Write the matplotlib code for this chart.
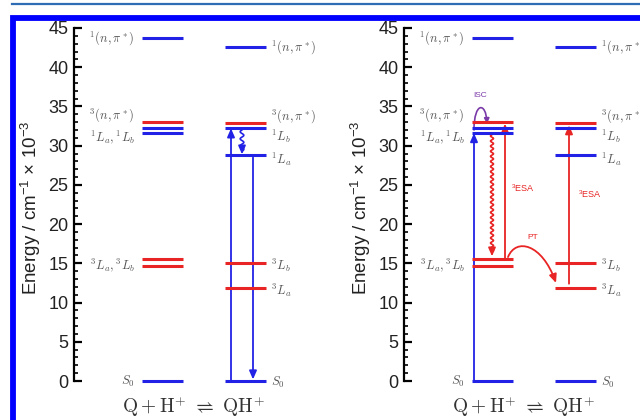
import numpy as np
import matplotlib
matplotlib.use("Agg")
import matplotlib.pyplot as plt
from matplotlib.patches import FancyArrowPatch, Rectangle
from matplotlib.path import Path
from matplotlib.lines import Line2D
from matplotlib.ticker import MultipleLocator

plt.rcParams['font.family'] = ['Liberation Sans', 'DejaVu Sans']
plt.rcParams['mathtext.fontset'] = 'custom'
plt.rcParams['mathtext.rm'] = 'Liberation Sans'
plt.rcParams['mathtext.it'] = 'Liberation Sans:italic'

# ---------------- data (energies in 10^3 cm^-1) ----------------
q_labels = [r'$^1(n,\pi^*)$', r'$^3(n,\pi^*)$', None, r'$^1L_a,{}^1L_b$',
            r'$^3L_a,{}^3L_b$', None, r'$S_0$']
q_energy = [43.7, 33.0, 32.3, 31.6, 15.5, 14.7, 0.0]
q_kind = ['S', 'T', 'S', 'S', 'T', 'T', 'S']
q_label_y = [43.7, 33.9, None, 31.0, 14.8, None, -0.1]

qh_labels = [r'$^1(n,\pi^*)$', r'$^3(n,\pi^*)$', r'$^1L_b$', r'$^1L_a$',
             r'$^3L_b$', r'$^3L_a$', r'$S_0$']
qh_energy = [42.6, 32.9, 32.2, 28.8, 15.0, 11.9, 0.0]
qh_kind = ['S', 'T', 'S', 'S', 'T', 'T', 'S']
qh_label_y = [42.6, 33.8, 31.2, 28.3, 14.7, 11.6, -0.2]

reaction = r'$\mathrm{Q}+\mathrm{H}^{+}\ \rightleftharpoons\ \mathrm{QH}^{+}$'
ylabel = r'Energy / cm$^{-1}$ $\times$ 10$^{-3}$'

BLUE = '#2222e6'
RED = '#e82424'
PURPLE = '#7a3aa8'
GRAY = '#555555'
COL = {'S': BLUE, 'T': RED}

# layout (axis-relative x positions in px)
QX = (68, 109)
QHX = (151, 192)

fig = plt.figure(figsize=(6.4, 4.2), dpi=100)
W, H = 640, 420
ax1 = fig.add_axes([74 / W, 39 / H, 240 / W, 353 / H])
ax2 = fig.add_axes([404 / W, 39 / H, 236 / W, 353 / H])


def style(ax, width):
    ax.set_xlim(0, width)
    ax.set_ylim(0, 45)
    for s in ['top', 'right', 'bottom']:
        ax.spines[s].set_visible(False)
    ax.spines['left'].set_linewidth(1.6)
    ax.set_xticks([])
    ax.yaxis.set_major_locator(MultipleLocator(5))
    ax.yaxis.set_minor_locator(MultipleLocator(1))
    ax.tick_params(axis='y', which='major', direction='in', length=5.5,
                   width=1.6, labelsize=13, pad=4, labelcolor='#222222')
    ax.tick_params(axis='y', which='minor', direction='in', length=3,
                   width=1.2)
    ax.patch.set_alpha(0)
    ax.text(-43 / width, 0.49, ylabel, rotation=90, ha='center',
            va='center', transform=ax.transAxes, fontsize=13.5,
            color='#222222')


def levels(ax):
    for e, k in zip(q_energy, q_kind):
        ax.plot(QX, [e, e], color=COL[k], lw=2.2, clip_on=False,
                solid_capstyle='butt')
    for e, k in zip(qh_energy, qh_kind):
        ax.plot(QHX, [e, e], color=COL[k], lw=2.2, clip_on=False,
                solid_capstyle='butt')
    for lab, y in zip(q_labels, q_label_y):
        if lab:
            ax.text(QX[0] - 7, y, lab, ha='right', va='center', fontsize=9,
                    color=GRAY, math_fontfamily='cm')
    for lab, y in zip(qh_labels, qh_label_y):
        ax.text(QHX[1] + 5, y, lab, ha='left', va='center', fontsize=9,
                color=GRAY, math_fontfamily='cm', clip_on=False)
    ax.text((QX[0] + QHX[1]) / 2 - 11, -3.3, reaction, ha='center',
            va='center', fontsize=14, math_fontfamily='cm',
            color='#333333', clip_on=False)


def arrow(ax, x, y0, y1, color=BLUE, lw=1.3):
    a = FancyArrowPatch((x, y0), (x, y1),
                        arrowstyle='-|>,head_length=5,head_width=2.2',
                        mutation_scale=1, color=color, lw=lw,
                        shrinkA=0, shrinkB=0, clip_on=False)
    ax.add_patch(a)


def wavy(ax, x, y0, y1, color, period, amp, lw=1.2):
    n = int(abs(y0 - y1) / period)
    yy = np.linspace(y0, y0 - n * period, 40 * n + 1)
    xx = x + amp * np.sin(2 * np.pi * (yy - y0) / period)
    verts = list(zip(xx, yy)) + [(x, y1)]
    p = Path(verts)
    a = FancyArrowPatch(path=p, arrowstyle='-|>,head_length=5,head_width=2.2',
                        mutation_scale=1, color=color, lw=lw,
                        shrinkA=0, shrinkB=0)
    ax.add_patch(a)


def curved(ax, pts, color, lw=1.3, hl=5, hw=2.2):
    codes = [Path.MOVETO, Path.CURVE4, Path.CURVE4, Path.CURVE4]
    p = Path(pts, codes)
    a = FancyArrowPatch(path=p,
                        arrowstyle=f'-|>,head_length={hl},head_width={hw}',
                        mutation_scale=1, color=color, lw=lw,
                        shrinkA=0, shrinkB=0)
    ax.add_patch(a)


style(ax1, 240)
style(ax2, 236)
levels(ax1)
levels(ax2)

# ---- left panel arrows (QH+) ----
arrow(ax1, 157, qh_energy[6], qh_energy[2])
wavy(ax1, 168, qh_energy[2] - 0.2, qh_energy[3] + 0.1, BLUE, 0.9, 1.8)
arrow(ax1, 179, qh_energy[3] - 0.3, qh_energy[6] + 0.2)

# ---- right panel arrows ----
arrow(ax2, 70, q_energy[6], q_energy[3])
curved(ax2, [(70, 32.0), (70, 35.6), (82, 35.6), (83, 32.8)], PURPLE,
       lw=1.2, hl=3, hw=1.5)
ax2.text(76, 35.9, 'ISC', color=PURPLE, fontsize=6, ha='center',
         va='bottom')
wavy(ax2, 88, q_energy[3] - 0.2, q_energy[4] + 0.4, RED, 0.65, 1.5)
arrow(ax2, 101, q_energy[4] + 0.1, q_energy[1] - 0.2, RED)
ax2.text(107, 24.6, r'$^3$ESA', color=RED, fontsize=6.5, ha='left',
         va='center')
curved(ax2, [(104, 15.8), (112, 18.3), (138, 17.5), (152, 12.5)], RED)
ax2.text(129, 17.8, 'PT', color=RED, fontsize=6, ha='center',
         va='bottom')
arrow(ax2, 165, qh_energy[5] + 0.5, qh_energy[1] - 0.3, RED)
ax2.text(174, 23.8, r'$^3$ESA', color=RED, fontsize=6.5, ha='left',
         va='center')

# ---- page frame ----
fig.add_artist(Line2D([12 / W, 1.0], [1 - 4.2 / H, 1 - 4.2 / H],
                      transform=fig.transFigure, color='#2e6db4', lw=1.6))
fig.add_artist(Rectangle((13 / W, -0.2), 1.2, 1.2 - 17.5 / H + 0.0,
                         transform=fig.transFigure, fill=False,
                         edgecolor='#0000ff', lw=4.2))

fig.savefig('out.png', dpi=100)
